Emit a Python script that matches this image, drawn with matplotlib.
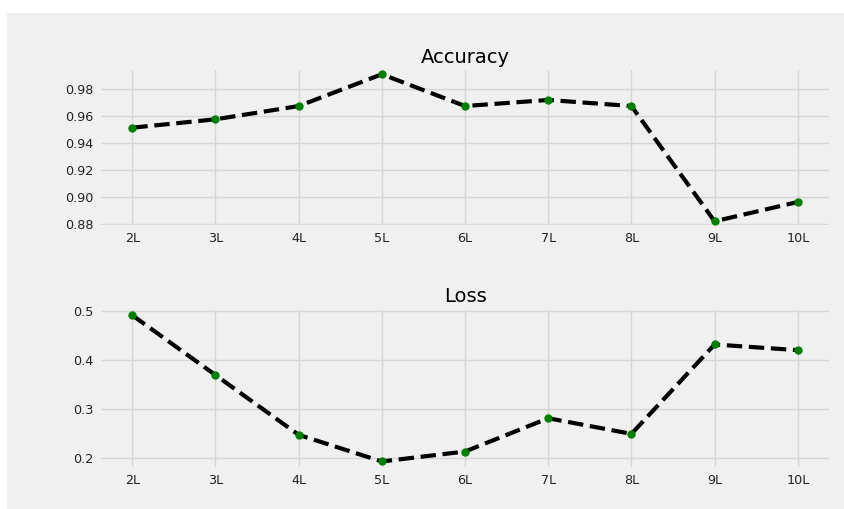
import matplotlib
matplotlib.use("Agg")
import matplotlib.pyplot as plt
from matplotlib.patches import Rectangle

layers = ["2L", "3L", "4L", "5L", "6L", "7L", "8L", "9L", "10L"]
accuracy = [0.9514, 0.9576, 0.9674, 0.9909, 0.9674, 0.9719, 0.9674, 0.8822, 0.8965]
loss = [0.4913, 0.3693, 0.2474, 0.1931, 0.2134, 0.2813, 0.2494, 0.4317, 0.4201]
acc_ticks = [0.88, 0.90, 0.92, 0.94, 0.96, 0.98]
loss_ticks = [0.2, 0.3, 0.4, 0.5]

plt.style.use("fivethirtyeight")

fig = plt.figure(figsize=(8.45, 5.09), dpi=100, facecolor="white")
# grey panel (original picture has a thin white border top/left)
fig.add_artist(Rectangle((7 / 845, 0), 1, 1 - 13 / 509, transform=fig.transFigure,
                         facecolor="#f0f0f0", edgecolor="none", zorder=-10))

ax1 = fig.add_axes([0.1172, 0.5546, 0.8663, 0.3112])
ax2 = fig.add_axes([0.1172, 0.079, 0.8663, 0.316])

for ax, vals, title in [(ax1, accuracy, "Accuracy"), (ax2, loss, "Loss")]:
    ax.plot(layers, vals, color="black", linestyle="--", linewidth=3, zorder=2)
    ax.plot(layers, vals, "o", color="green", markersize=5, zorder=3)
    ax.set_title(title, fontsize=14, pad=4)
    ax.tick_params(axis="both", labelsize=9.2, length=0, pad=4, labelcolor="#222222")
    ax.grid(True, color="#d6d6d6", linewidth=1)
    ax.set_facecolor("#f0f0f0")

ax1.set_yticks(acc_ticks)
ax1.set_ylim(0.8782, 0.9953)
ax2.set_yticks(loss_ticks)

fig.savefig("out.png", dpi=100, facecolor=fig.get_facecolor())
